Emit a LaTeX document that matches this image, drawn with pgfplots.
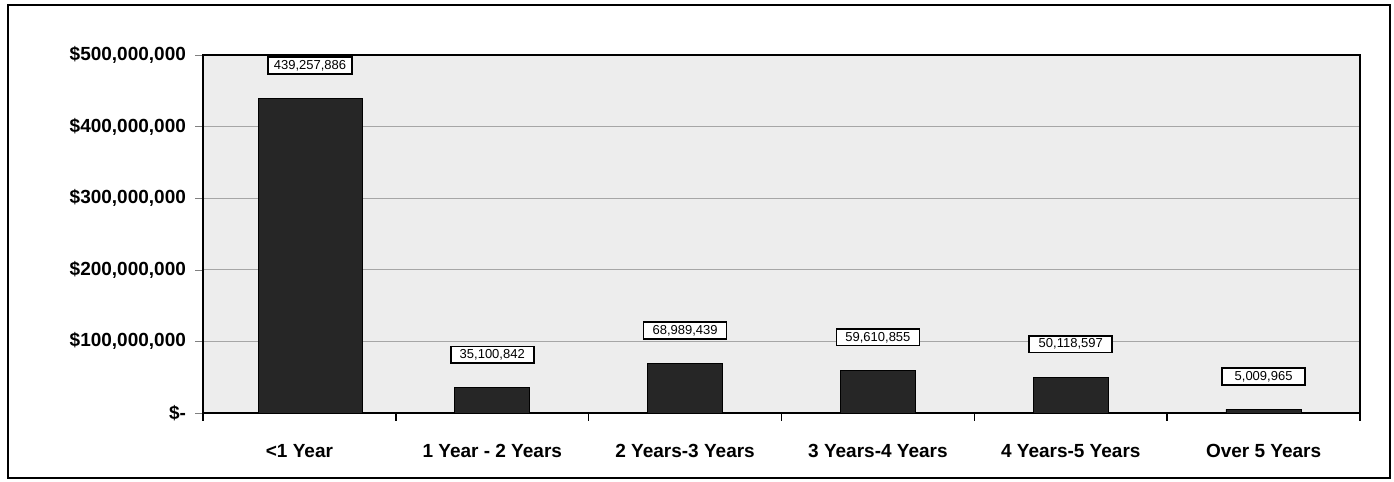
\documentclass[border=0pt]{standalone}
\usepackage{pgfplots}
\pgfplotsset{compat=1.18}
\usepackage{fontspec}
\setmainfont{Liberation Sans}
\begin{document}
\begin{tikzpicture}
\begin{axis}[
  scale only axis,
  width=578.5pt, height=179pt,
  xmin=-0.5, xmax=5.5,
  ymin=0, ymax=500000000,
  ytick={0,100000000,200000000,300000000,400000000,500000000},
  yticklabels={{\$-},{\$100,000,000},{\$200,000,000},{\$300,000,000},{\$400,000,000},{\$500,000,000}},
  yticklabel style={font=\fontsize{9.5}{11}\selectfont\bfseries, xshift=-1pt},
  xtick={0,1,2,3,4,5},
  xticklabels={{<1 Year},{1 Year - 2 Years},{2 Years-3 Years},{3 Years-4 Years},{4 Years-5 Years},{Over 5 Years}},
  xticklabel style={font=\fontsize{9.5}{11}\selectfont\bfseries, yshift=-8pt},
  major x tick style={draw=none},
  minor xtick={-0.5,0.5,1.5,2.5,3.5,4.5,5.5},
  minor x tick style={black, line width=0.8pt},
  minor tick length=4pt,
  major tick length=4pt,
  tick align=outside,
  xtick pos=left, ytick pos=left,
  ymajorgrids,
  grid style={gray!70, line width=0.6pt},
  axis background/.style={fill=black!7},
  axis line style={black, line width=0.8pt},
  scaled y ticks=false,
  ybar,
  bar width=0.39,
  point meta=explicit symbolic,
  nodes near coords,
  every node near coord/.append style={font=\fontsize{6.5}{7}\selectfont, anchor=center, yshift=16.5pt, draw=black, line width=0.8pt, fill=white, inner xsep=3pt, inner ysep=1.5pt, minimum width=41.5pt},
  clip=false,
]
\addplot[fill=black!85, draw=black, bar width=0.54, bar shift=0.055] coordinates {
  (0,439257886) [439,257,886]
};
\addplot[fill=black!85, draw=black, bar shift=0] coordinates {
  (1,35100842) [35,100,842]
  (2,68989439) [68,989,439]
  (3,59610855) [59,610,855]
  (4,50118597) [50,118,597]
  (5,5009965) [5,009,965]
};
\coordinate (ll) at (rel axis cs:0,0);
\coordinate (ur) at (rel axis cs:1,1);
\end{axis}
\pgfresetboundingbox
\path ([shift={(-101.5pt,-34.5pt)}]ll) rectangle ([shift={(17pt,27.5pt)}]ur);
\draw[line width=0.8pt] ([shift={(-97.5pt,-32.5pt)}]ll) rectangle ([shift={(15pt,25pt)}]ur);
\end{tikzpicture}
\end{document}
